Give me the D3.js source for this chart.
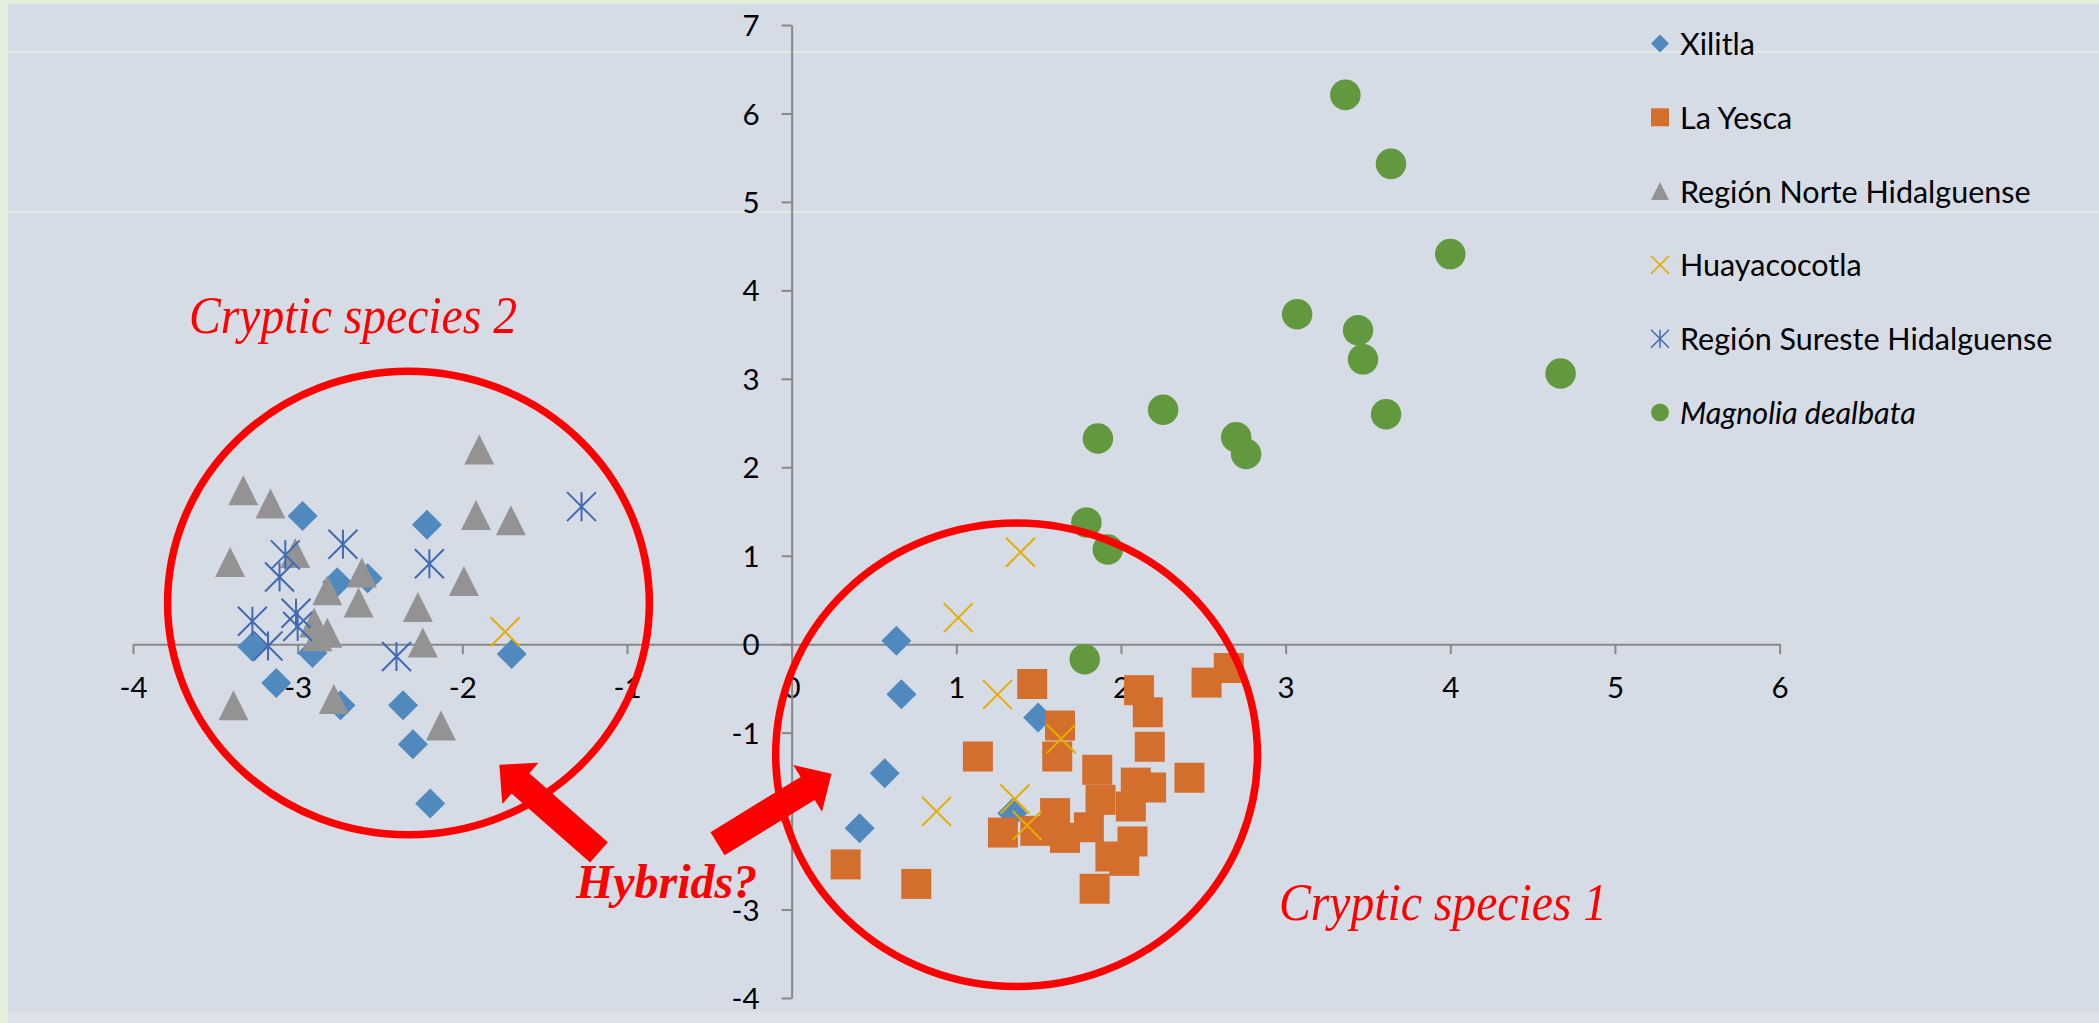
<!DOCTYPE html>
<html>
<head>
<meta charset="utf-8">
<script src="https://cdn.jsdelivr.net/npm/d3@7"></script>
<style>
    body { margin: 0; background: #d6dce5; }
    svg { display: block; }
    .axis text { font-family: Lato, "Open Sans", sans-serif; font-size: 29.5px; fill: #000; }
    .axis path, .axis line { stroke: #888888; stroke-width: 2; }
    .legend text { font-family: Lato, "Open Sans", sans-serif; font-size: 30.5px; fill: #000; }
    .note { font-family: "Liberation Serif", "Times New Roman", serif; font-style: italic; fill: #ff0000; }
</style>
</head>
<body>
<script>
// series values, [x, y]
const xilitla = [[-2.97, 1.45], [-2.76, 0.70], [-2.575, 0.745], [-3.275, -0.03], [-2.91, -0.10], [-3.13, -0.44],
    [-2.74, -0.69], [-2.215, 1.35], [-1.70, -0.11], [-2.36, -0.69], [-2.30, -1.13], [-2.195, -1.80],
    [0.636, 0.04], [0.667, -0.565], [0.565, -1.46], [0.413, -2.08], [1.497, -0.83], [1.34, -1.91]];

const laYesca = [[1.461, -0.45], [1.131, -1.27], [0.328, -2.49], [0.757, -2.71], [1.283, -2.13], [1.48, -2.11],
    [2.655, -0.27], [2.52, -0.435], [2.11, -0.52], [2.163, -0.77], [2.175, -1.16], [2.416, -1.51],
    [1.63, -0.92], [1.613, -1.27], [1.856, -1.42], [2.09, -1.565], [2.183, -1.62], [1.876, -1.76],
    [2.06, -1.835], [1.60, -1.91], [1.805, -2.07], [1.66, -2.19], [2.07, -2.23], [1.936, -2.40],
    [2.02, -2.45], [1.84, -2.765]];

const norteHidalguense = [[-3.33, 1.74], [-3.165, 1.59], [-3.41, 0.93], [-3.015, 1.03], [-2.82, 0.61], [-2.61, 0.81],
    [-2.63, 0.47], [-2.90, 0.245], [-2.82, 0.13], [-2.88, 0.09], [-3.39, -0.69], [-2.78, -0.62],
    [-1.897, 2.20], [-1.917, 1.46], [-1.705, 1.40], [-1.99, 0.715], [-2.27, 0.42], [-2.24, 0.02], [-2.13, -0.92]];

const huayacocotla = [[-1.74, 0.14], [1.012, 0.30], [1.39, 1.04], [1.25, -0.57], [0.88, -1.89], [1.356, -1.75],
    [1.43, -2.05], [1.637, -1.07]];

const suresteHidalguense = [[-2.725, 1.13], [-3.075, 1.01], [-3.11, 0.76], [-3.275, 0.26], [-3.01, 0.35], [-3.00, 0.20],
    [-3.18, -0.02], [-2.40, -0.14], [-1.276, 1.555], [-2.20, 0.91]];

const magnolia = [[3.363, 6.21], [3.64, 5.43], [4.00, 4.41], [3.07, 3.73], [3.44, 3.55], [3.47, 3.22], [3.61, 2.60],
    [4.67, 3.06], [2.256, 2.65], [1.86, 2.325], [2.70, 2.34], [2.76, 2.15], [1.79, 1.375], [1.92, 1.07], [1.78, -0.17]];

const seriesNames = ["Xilitla", "La Yesca", "Región Norte Hidalguense", "Huayacocotla", "Región Sureste Hidalguense", "Magnolia dealbata"];
const xTicks = [-4, -3, -2, -1, 0, 1, 2, 3, 4, 5, 6];
const yTicks = [-4, -3, -2, -1, 0, 1, 2, 3, 4, 5, 6, 7];

// annotations, in data units
const ellipses = [[-2.327, 0.465, 1.463, 2.62], [1.366, -1.25, 1.463, 2.62]];
const arrows = [[[-1.17, -2.353], [-1.775, -1.364]], [[-0.45, -2.256], [0.242, -1.465]]];
const notes = [["Cryptic species 2", -3.66, 3.52], ["Cryptic species 1", 2.96, -3.115], ["Hybrids?", -1.31, -2.87]];

let W = 2099, H = 1023;

let svg = d3.select("body").append("svg")
    .attr("width", W)
    .attr("height", H);

// background and the light slide lines behind the chart
svg.append("rect").attr("width", W).attr("height", H).attr("fill", "#d6dce5");
svg.append("rect").attr("width", W).attr("height", 4).attr("fill", "#e2efda");
svg.append("rect").attr("width", 8).attr("height", H).attr("fill", "#e2efda");
[52, 212].forEach(function (yy) {
    svg.append("line").attr("x1", 8).attr("x2", W).attr("y1", yy).attr("y2", yy)
        .attr("stroke", "#e2efda").attr("stroke-width", 1.5);
});
svg.append("rect").attr("x", 8).attr("y", 1011).attr("width", W).attr("height", 12).attr("fill", "#dde2ea");

let x = d3.scaleLinear().domain([-4, 6]).range([133, 1779.6]);
let y = d3.scaleLinear().domain([-4, 7]).range([998, 25]);

let xAxis = d3.axisBottom(x).tickValues(xTicks).tickSizeInner(10).tickSizeOuter(0)
    .tickFormat(function (d) { return String(d); });
let yAxis = d3.axisLeft(y).tickValues(yTicks).tickSizeInner(10).tickSizeOuter(0)
    .tickFormat(function (d) { return String(d); });

svg.append("g")
    .attr("class", "axis")
    .attr("transform", "translate(0," + y(0) + ")")
    .call(xAxis)
    .selectAll("text").attr("y", 54).attr("dy", 0);

svg.append("g")
    .attr("class", "axis")
    .attr("transform", "translate(" + x(0) + ",0)")
    .call(yAxis)
    .selectAll("text").attr("x", -32).attr("dy", "0.36em");

// marker shapes
function markerPath(type, s) {
    let h = s / 2;
    if (type === "diamond") return "M0," + (-h) + "L" + h + ",0L0," + h + "L" + (-h) + ",0Z";
    if (type === "square") return "M" + (-h) + "," + (-h) + "h" + s + "v" + s + "h" + (-s) + "Z";
    if (type === "triangle") return "M0," + (-h) + "L" + h + "," + h + "L" + (-h) + "," + h + "Z";
    if (type === "x") return "M" + (-h) + "," + (-h) + "L" + h + "," + h + "M" + h + "," + (-h) + "L" + (-h) + "," + h;
    if (type === "star") return "M" + (-h) + "," + (-h) + "L" + h + "," + h + "M" + h + "," + (-h) + "L" + (-h) + "," + h +
        "M0," + (-h) + "L0," + h;
    return d3.symbol().type(d3.symbolCircle).size(Math.PI * h * h)();
}

let series = [
    {name: seriesNames[0], values: xilitla, type: "diamond", color: "#5089be", size: 30, line: false},
    {name: seriesNames[1], values: laYesca, type: "square", color: "#d36e2c", size: 30, line: false},
    {name: seriesNames[2], values: norteHidalguense, type: "triangle", color: "#939393", size: 30, line: false},
    {name: seriesNames[3], values: huayacocotla, type: "x", color: "#e6ac00", size: 29, line: true},
    {name: seriesNames[4], values: suresteHidalguense, type: "star", color: "#4169b4", size: 29, line: true},
    {name: seriesNames[5], values: magnolia, type: "circle", color: "#62993e", size: 30.5, line: false}
];

series.forEach(function (s) {
    svg.append("g").selectAll("path")
        .data(s.values)
        .enter().append("path")
        .attr("transform", function (d) {
            return "translate(" + x(d[0]) + "," + y(d[1]) + ")";
        })
        .attr("d", markerPath(s.type, s.size))
        .attr("fill", s.line ? "none" : s.color)
        .attr("stroke", s.line ? s.color : "none")
        .attr("stroke-width", s.line ? 2 : 0);
});

//Legend
let legend = svg.selectAll(".legend")
    .data(series)
    .enter().append("g")
    .attr("class", "legend")
    .attr("transform", function (d, i) {
        return "translate(1660," + (43.5 + i * 73.8) + ")";
    });

legend.append("path")
    .attr("d", function (d) { return markerPath(d.type, 18); })
    .attr("fill", function (d) { return d.line ? "none" : d.color; })
    .attr("stroke", function (d) { return d.line ? d.color : "none"; })
    .attr("stroke-width", 1.5);

legend.append("text")
    .attr("x", 20)
    .attr("dy", "0.38em")
    .style("font-style", function (d, i) { return i === 5 ? "italic" : "normal"; })
    .text(function (d) { return d.name; });

// red annotations
svg.append("g").selectAll("ellipse")
    .data(ellipses)
    .enter().append("ellipse")
    .attr("cx", function (d) { return x(d[0]); })
    .attr("cy", function (d) { return y(d[1]); })
    .attr("rx", function (d) { return x(d[0] + d[2]) - x(d[0]); })
    .attr("ry", function (d) { return y(d[1] - d[3]) - y(d[1]); })
    .attr("fill", "none")
    .attr("stroke", "#ff0000")
    .attr("stroke-width", 7.5);

function arrowPath(d) {
    let tx = x(d[0][0]), ty = y(d[0][1]), px = x(d[1][0]), py = y(d[1][1]);
    let len = Math.hypot(px - tx, py - ty), ux = (px - tx) / len, uy = (py - ty) / len;
    let nx = -uy, ny = ux, sw = 13.5, hw = 27.5, hl = 28;
    let bx = px - ux * hl, by = py - uy * hl;
    let pts = [[tx + nx * sw, ty + ny * sw], [bx + nx * sw, by + ny * sw], [bx + nx * hw, by + ny * hw], [px, py],
        [bx - nx * hw, by - ny * hw], [bx - nx * sw, by - ny * sw], [tx - nx * sw, ty - ny * sw]];
    return "M" + pts.join("L") + "Z";
}

svg.append("g").selectAll("path")
    .data(arrows)
    .enter().append("path")
    .attr("d", arrowPath)
    .attr("fill", "#ff0000");

svg.append("g").selectAll("text")
    .data(notes)
    .enter().append("text")
    .attr("class", "note")
    .attr("x", function (d) { return x(d[1]); })
    .attr("y", function (d) { return y(d[2]); })
    .style("font-size", function (d) { return d[0] === "Hybrids?" ? "48px" : "53px"; })
    .style("font-weight", function (d) { return d[0] === "Hybrids?" ? "bold" : "normal"; })
    .attr("textLength", function (d) { return d[0] === "Hybrids?" ? null : 328; })
    .attr("lengthAdjust", "spacingAndGlyphs")
    .text(function (d) { return d[0]; });
</script>
</body>
</html>
